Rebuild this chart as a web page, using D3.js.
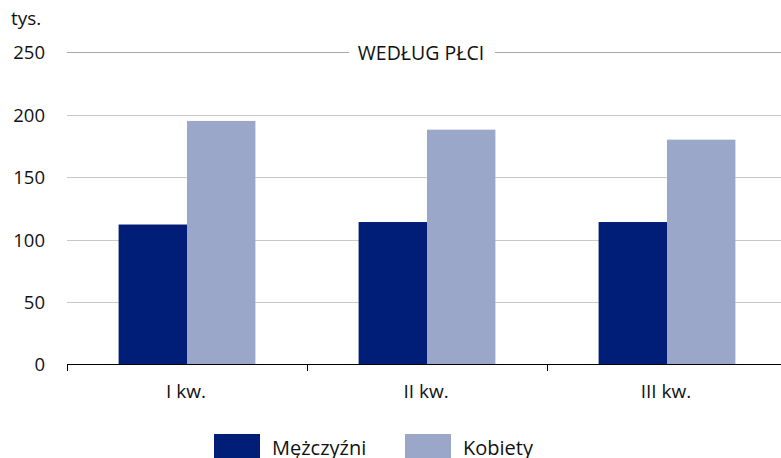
<!DOCTYPE html>
<meta charset="utf-8">
<title>wedlug plci</title>
<style>
body {
  margin: 0px;
  background: #fff;
}
svg text {
  font-family: "Open Sans", "Noto Sans", sans-serif;
  fill: #111;
}
.grid line {
  stroke: #c8c8c8;
}
</style>
<script src="https://d3js.org/d3.v7.min.js"></script>
<body>
<script>
var width = 781, height = 458;

// data
var quarters = ["I kw.", "II kw.", "III kw."];
var series = ["Mężczyźni", "Kobiety"];
var men = [112, 114, 114];
var women = [195, 188, 180];
var yTicks = [0, 50, 100, 150, 200, 250];
var colors = ["#001e78", "#9aa7c9"];

var svg = d3.select("body").append("svg")
    .attr("width", width)
    .attr("height", height)
    .attr("font-family", "Open Sans, Noto Sans, sans-serif");

var x = d3.scaleBand()
    .domain(quarters)
    .range([67, 787])
    .paddingInner(0.43)
    .paddingOuter(0.215);

var x1 = d3.scaleBand()
    .domain(series)
    .range([0, x.bandwidth()]);

var y = d3.scaleLinear()
    .domain([0, 250])
    .range([364.3, 52.3]);

// gridlines (250 line is split around the title)
var grid = svg.append("g").attr("class", "grid");
grid.selectAll("line.g")
    .data(yTicks.filter(function(d) { return d > 0 && d < 250; }))
  .enter().append("line")
    .attr("class", "g")
    .attr("x1", 67).attr("x2", width)
    .attr("y1", function(d) { return Math.round(y(d)) + 0.5; })
    .attr("y2", function(d) { return Math.round(y(d)) + 0.5; });

var topY = Math.round(y(250)) + 0.5;
grid.append("line").attr("x1", 67).attr("x2", 349).attr("y1", topY).attr("y2", topY).style("stroke", "#a8a8a8");
grid.append("line").attr("x1", 495).attr("x2", width).attr("y1", topY).attr("y2", topY).style("stroke", "#a8a8a8");

svg.append("text")
    .attr("x", 421).attr("y", topY + 7)
    .attr("text-anchor", "middle")
    .style("font-size", "19.5px")
    .text("WEDŁUG PŁCI");

// bars
var rows = quarters.map(function(q, i) {
  return { q: q, vals: [men[i], women[i]] };
});
var groups = svg.selectAll("g.grp")
    .data(rows)
  .enter().append("g")
    .attr("class", "grp")
    .attr("transform", function(d) { return "translate(" + x(d.q) + ",0)"; });
groups.selectAll("rect")
    .data(function(d) { return d.vals.map(function(v, j) { return { s: series[j], v: v, j: j }; }); })
  .enter().append("rect")
    .attr("x", function(d) { return x1(d.s); })
    .attr("width", x1.bandwidth())
    .attr("y", function(d) { return y(d.v); })
    .attr("height", function(d) { return y(0) - y(d.v); })
    .attr("fill", function(d) { return colors[d.j]; });

// y labels
svg.selectAll("text.ylab")
    .data(yTicks)
  .enter().append("text")
    .attr("class", "ylab")
    .attr("x", 45)
    .attr("y", function(d) { return y(d) + 7; })
    .attr("text-anchor", "end")
    .style("font-size", "18.5px")
    .text(function(d) { return d; });

svg.append("text")
    .attr("x", 11).attr("y", 25)
    .style("font-size", "19px")
    .text("tys.");

// x axis
var step = x.step();
var bounds = quarters.map(function(q) { return x(q) - step * 0.215; });
svg.append("line")
    .attr("x1", 67).attr("x2", width)
    .attr("y1", Math.round(y(0)) + 0.5).attr("y2", Math.round(y(0)) + 0.5)
    .style("stroke", "#000");
svg.selectAll("line.tick")
    .data(bounds)
  .enter().append("line")
    .attr("class", "tick")
    .attr("x1", function(d) { return Math.round(d) + 0.5; })
    .attr("x2", function(d) { return Math.round(d) + 0.5; })
    .attr("y1", Math.round(y(0)))
    .attr("y2", Math.round(y(0)) + 7)
    .style("stroke", "#000");

svg.selectAll("text.xlab")
    .data(quarters)
  .enter().append("text")
    .attr("class", "xlab")
    .attr("x", function(d) { return x(d) + x.bandwidth() / 2 - 1; })
    .attr("y", 398)
    .attr("text-anchor", "middle")
    .style("font-size", "19px")
    .text(function(d) { return d; });

// legend
var legX = [214, 405];
var leg = svg.selectAll("g.leg")
    .data(series)
  .enter().append("g")
    .attr("class", "leg")
    .attr("transform", function(d, i) { return "translate(" + legX[i] + ",434)"; });
leg.append("rect")
    .attr("width", 46).attr("height", 24)
    .attr("fill", function(d, i) { return colors[i]; });
leg.append("text")
    .attr("x", 58).attr("y", 21)
    .style("font-size", "20px")
    .text(function(d) { return d; });
</script>
